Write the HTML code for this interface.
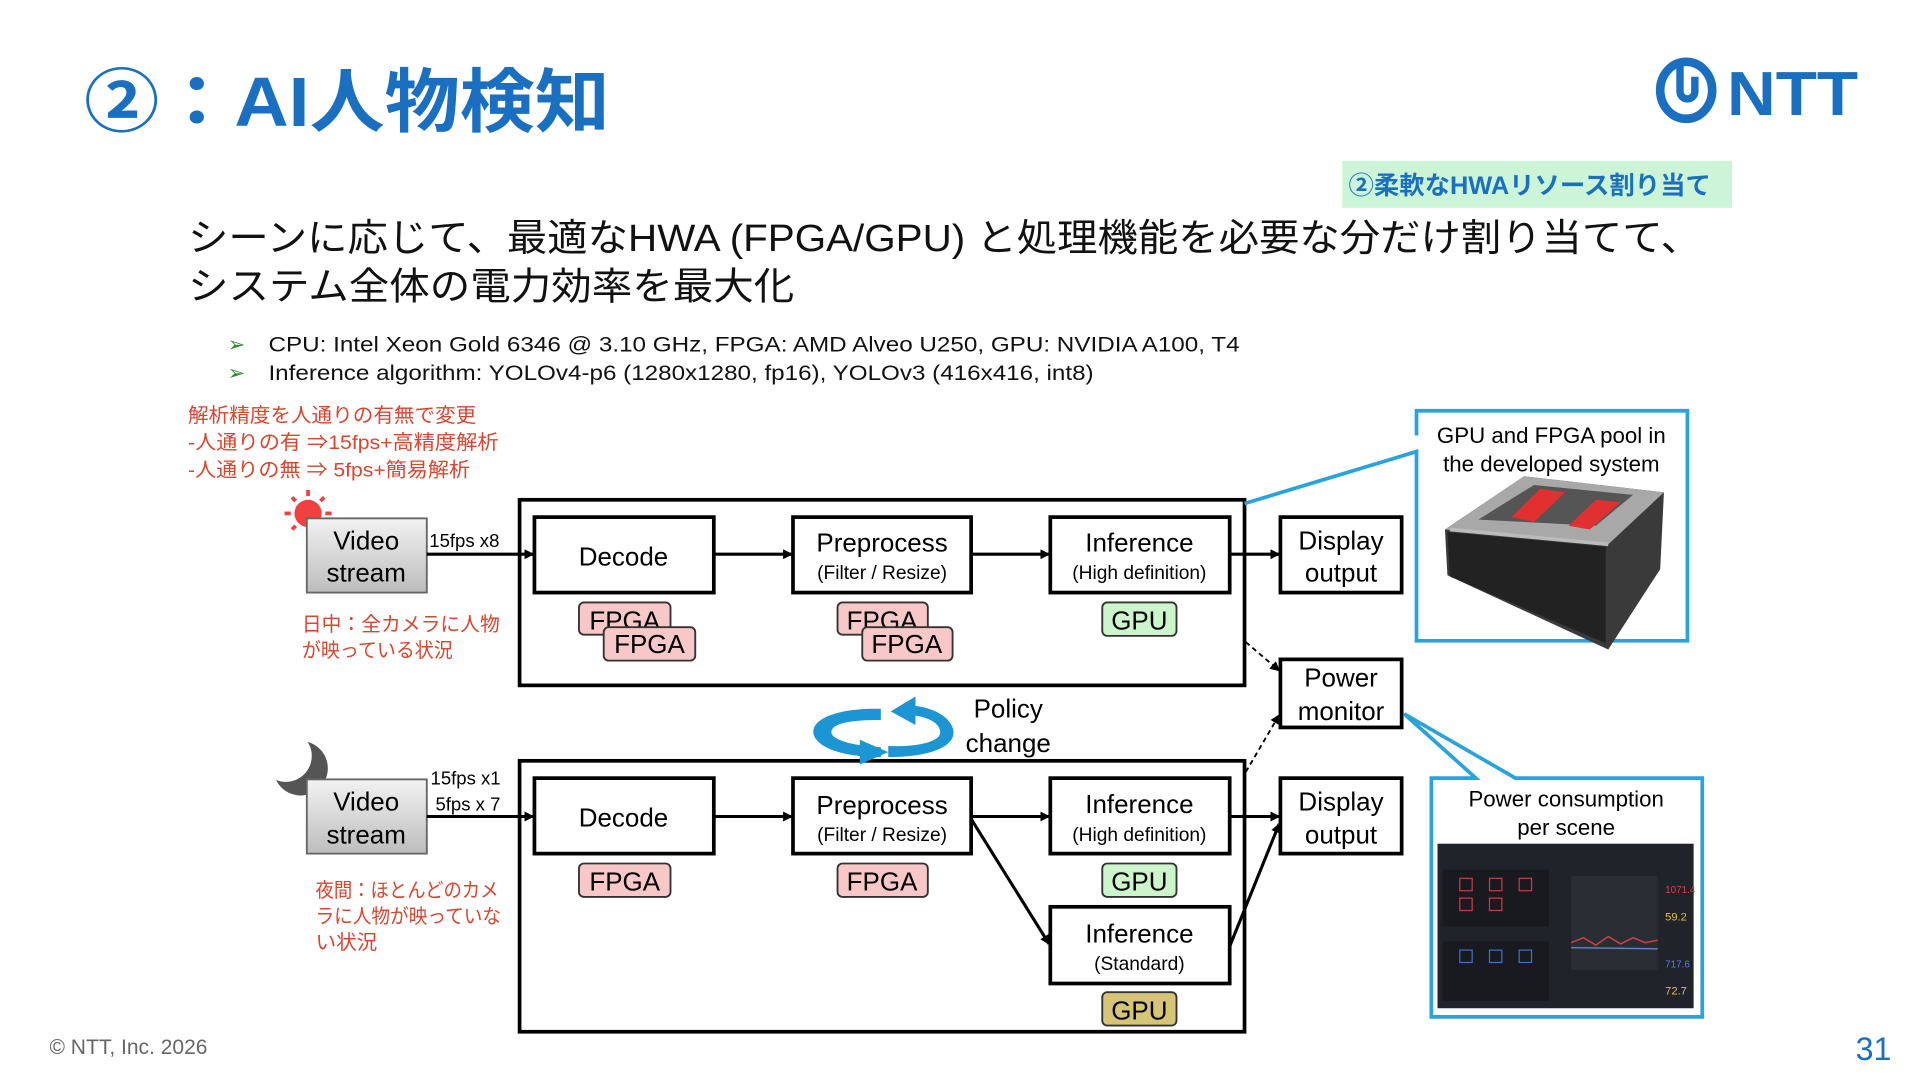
<!DOCTYPE html>
<html><head><meta charset="utf-8"><style>
html,body{margin:0;padding:0;background:#fff;width:1920px;height:1080px;overflow:hidden}
svg{display:block}
text{font-family:"Liberation Sans","Noto Sans CJK JP",sans-serif}
</style></head><body>
<svg width="1920" height="1080" viewBox="0 0 1552 873" xmlns="http://www.w3.org/2000/svg">
<defs>
<marker id="ah" markerWidth="8" markerHeight="8" refX="7" refY="4" orient="auto" markerUnits="userSpaceOnUse"><path d="M0,0 L8,4 L0,8 z" fill="#000"/></marker>
<linearGradient id="gv" x1="0" y1="0" x2="0" y2="1"><stop offset="0" stop-color="#f2f2f2"/><stop offset="1" stop-color="#bdbdbd"/></linearGradient>
<mask id="mm"><rect x="200" y="580" width="100" height="100" fill="#fff"/><circle cx="231" cy="611" r="21" fill="#000"/></mask>
</defs>
<!-- title -->
<text x="68" y="102" font-size="56" font-weight="bold" fill="#1a6fc0" textLength="425" lengthAdjust="spacingAndGlyphs">②：AI人物検知</text>
<!-- NTT logo -->
<ellipse cx="1363" cy="73" rx="21" ry="23" fill="none" stroke="#1a6fc0" stroke-width="7"/>
<path d="M1358,52 v22 a6,6 0 0 0 12,0 v-12" fill="none" stroke="#1a6fc0" stroke-width="6"/>
<text x="1396" y="93" font-size="50" font-weight="bold" fill="#1a6fc0" textLength="106" lengthAdjust="spacingAndGlyphs">NTT</text>
<!-- green label -->
<rect x="1085" y="130" width="315" height="38" fill="#ccf5d8"/>
<text x="1090" y="157" font-size="20" font-weight="bold" fill="#1a6fc0" textLength="293" lengthAdjust="spacingAndGlyphs">②柔軟なHWAリソース割り当て</text>
<!-- heading -->
<text x="152" y="203" font-size="31" fill="#111" textLength="1223" lengthAdjust="spacingAndGlyphs">シーンに応じて、最適なHWA (FPGA/GPU) と処理機能を必要な分だけ割り当てて、</text>
<text x="152" y="242" font-size="31" fill="#111" textLength="490" lengthAdjust="spacingAndGlyphs">システム全体の電力効率を最大化</text>
<text x="184" y="284" font-size="17" fill="#2e8b2e">➢</text>
<text x="217" y="284" font-size="17.5" fill="#111" textLength="785" lengthAdjust="spacingAndGlyphs">CPU: Intel Xeon Gold 6346 @ 3.10 GHz, FPGA: AMD Alveo U250, GPU: NVIDIA A100, T4</text>
<text x="184" y="307" font-size="17" fill="#2e8b2e">➢</text>
<text x="217" y="307" font-size="17.5" fill="#111" textLength="667" lengthAdjust="spacingAndGlyphs">Inference algorithm: YOLOv4-p6 (1280x1280, fp16), YOLOv3 (416x416, int8)</text>
<!-- red notes -->
<g font-size="16" fill="#d9452f" lengthAdjust="spacingAndGlyphs">
<text x="152" y="341" textLength="233" lengthAdjust="spacingAndGlyphs">解析精度を人通りの有無で変更</text>
<text x="152" y="363" textLength="251" lengthAdjust="spacingAndGlyphs">-人通りの有 ⇒15fps+高精度解析</text>
<text x="152" y="385" textLength="228" lengthAdjust="spacingAndGlyphs">-人通りの無 ⇒ 5fps+簡易解析</text>
<text x="244" y="510" textLength="160" lengthAdjust="spacingAndGlyphs">日中：全カメラに人物</text>
<text x="244" y="531" textLength="122" lengthAdjust="spacingAndGlyphs">が映っている状況</text>
<text x="255" y="725" textLength="148" lengthAdjust="spacingAndGlyphs">夜間：ほとんどのカメ</text>
<text x="255" y="746" textLength="150" lengthAdjust="spacingAndGlyphs">ラに人物が映っていな</text>
<text x="255" y="767" textLength="50" lengthAdjust="spacingAndGlyphs">い状況</text>
</g>
<!-- sun -->
<g fill="#f04040" stroke="#f04040">
<circle cx="249" cy="415" r="11" stroke="none"/>
<g stroke-width="3">
<line x1="249" y1="396" x2="249" y2="401"/><line x1="249" y1="429" x2="249" y2="434"/>
<line x1="230" y1="415" x2="235" y2="415"/><line x1="263" y1="415" x2="268" y2="415"/>
<line x1="236" y1="402" x2="239" y2="405"/><line x1="262" y1="402" x2="259" y2="405"/>
<line x1="236" y1="428" x2="239" y2="425"/><line x1="262" y1="428" x2="259" y2="425"/>
</g>
</g>
<!-- moon -->
<circle cx="243" cy="621" r="22" fill="#555" mask="url(#mm)"/>
<!-- video streams -->
<rect x="248" y="419" width="97" height="60" fill="url(#gv)" stroke="#666" stroke-width="1.5"/>
<text x="296" y="444" font-size="21" text-anchor="middle">Video</text>
<text x="296" y="470" font-size="21" text-anchor="middle">stream</text>
<rect x="248" y="630" width="97" height="60" fill="url(#gv)" stroke="#666" stroke-width="1.5"/>
<text x="296" y="655" font-size="21" text-anchor="middle">Video</text>
<text x="296" y="682" font-size="21" text-anchor="middle">stream</text>
<text x="347" y="442" font-size="15">15fps x8</text>
<text x="348" y="634" font-size="15">15fps x1</text>
<text x="352" y="655" font-size="15">5fps x 7</text>
<!-- big boxes -->
<rect x="420" y="404" width="586" height="150" fill="none" stroke="#000" stroke-width="3"/>
<rect x="420" y="615" width="586" height="219" fill="none" stroke="#000" stroke-width="3"/>
<g fill="#fff" stroke="#000" stroke-width="3">
<rect x="432" y="418" width="145" height="61"/>
<rect x="641" y="418" width="144" height="61"/>
<rect x="849" y="418" width="145" height="61"/>
<rect x="1035" y="418" width="98" height="61"/>
<rect x="1035" y="533" width="98" height="55"/>
<rect x="432" y="629" width="145" height="61"/>
<rect x="641" y="629" width="144" height="61"/>
<rect x="849" y="629" width="145" height="61"/>
<rect x="849" y="733" width="145" height="62"/>
<rect x="1035" y="629" width="98" height="61"/>
</g>
<g font-size="21" text-anchor="middle">
<text x="504" y="457">Decode</text>
<text x="713" y="446">Preprocess</text>
<text x="921" y="446">Inference</text>
<text x="1084" y="444">Display</text>
<text x="1084" y="470">output</text>
<text x="1084" y="555">Power</text>
<text x="1084" y="582">monitor</text>
<text x="504" y="668">Decode</text>
<text x="713" y="658">Preprocess</text>
<text x="921" y="657">Inference</text>
<text x="921" y="762">Inference</text>
<text x="1084" y="655">Display</text>
<text x="1084" y="682">output</text>
<text x="815" y="580">Policy</text>
<text x="815" y="608">change</text>
</g>
<g font-size="15.5" text-anchor="middle">
<text x="713" y="468">(Filter / Resize)</text>
<text x="921" y="468">(High definition)</text>
<text x="713" y="680">(Filter / Resize)</text>
<text x="921" y="680">(High definition)</text>
<text x="921" y="784">(Standard)</text>
</g>
<!-- tags -->
<g stroke="#333" stroke-width="1.5" font-size="21" text-anchor="middle">
<rect x="468" y="487" width="74" height="26" rx="4" fill="#f8c8c8"/><text x="505" y="509" stroke="none">FPGA</text>
<rect x="488" y="507" width="74" height="27" rx="4" fill="#f8c8c8"/><text x="525" y="528" stroke="none">FPGA</text>
<rect x="677" y="487" width="73" height="26" rx="4" fill="#f8c8c8"/><text x="713" y="509" stroke="none">FPGA</text>
<rect x="697" y="507" width="73" height="27" rx="4" fill="#f8c8c8"/><text x="733" y="528" stroke="none">FPGA</text>
<rect x="891" y="487" width="60" height="27" rx="4" fill="#ccf5cc"/><text x="921" y="509" stroke="none">GPU</text>
<rect x="468" y="698" width="74" height="27" rx="4" fill="#f8c8c8"/><text x="505" y="720" stroke="none">FPGA</text>
<rect x="677" y="698" width="73" height="27" rx="4" fill="#f8c8c8"/><text x="713" y="720" stroke="none">FPGA</text>
<rect x="891" y="698" width="60" height="27" rx="4" fill="#ccf5cc"/><text x="921" y="720" stroke="none">GPU</text>
<rect x="891" y="802" width="60" height="27" rx="4" fill="#d6c577"/><text x="921" y="824" stroke="none">GPU</text>
</g>
<!-- arrows -->
<g stroke="#000" stroke-width="2.5" marker-end="url(#ah)" fill="none">
<line x1="345" y1="448" x2="431" y2="448"/>
<line x1="577" y1="448" x2="640" y2="448"/>
<line x1="785" y1="448" x2="848" y2="448"/>
<line x1="994" y1="448" x2="1034" y2="448"/>
<line x1="345" y1="660" x2="431" y2="660"/>
<line x1="577" y1="660" x2="640" y2="660"/>
<line x1="785" y1="660" x2="848" y2="660"/>
<line x1="994" y1="660" x2="1034" y2="660"/>
<line x1="785" y1="662" x2="848" y2="763"/>
<line x1="994" y1="765" x2="1034" y2="666"/>
</g>
<g stroke="#000" stroke-width="1.5" stroke-dasharray="4,3" marker-end="url(#ah)" fill="none">
<line x1="1007" y1="519" x2="1034" y2="542"/>
<line x1="1007" y1="624" x2="1034" y2="578"/>
</g>
<!-- policy icon -->
<g fill="#1c95d4">
<path d="M712,573 C670,572 650,585 660,598 C668,608 690,612 712,612 L712,604 C690,603 672,598 672,592 C672,584 690,582 712,582 z"/>
<path d="M718,612 C755,612 775,602 770,588 C765,575 745,570 732,570 L732,578 C748,578 760,584 760,592 C760,600 740,604 718,603 z"/>
<path d="M695,598 L718,608 695,618 z"/>
<path d="M740,563 L720,575 740,586 z"/>
</g>
<!-- callout 1 -->
<g fill="none" stroke="#29a3dc" stroke-width="3">
<path d="M1006,407 L1145,365 L1145,518 L1364,518 L1364,332 L1145,332 L1145,352"/>
</g>
<text x="1254" y="358" font-size="18" text-anchor="middle">GPU and FPGA pool in</text>
<text x="1254" y="381" font-size="18" text-anchor="middle">the developed system</text>
<!-- server photo -->
<g>
<path d="M1168,428 L1232,385 L1345,398 L1342,460 L1300,525 L1170,465 z" fill="#3a3a3a"/>
<path d="M1168,428 L1232,385 L1345,398 L1300,440 z" fill="#a8a8a8"/>
<path d="M1195,420 L1240,392 L1320,400 L1290,425 z" fill="#555"/>
<path d="M1245,395 L1265,398 L1240,422 L1222,418 z" fill="#e03030"/>
<path d="M1290,404 L1310,406 L1285,428 L1268,425 z" fill="#e03030"/>
<path d="M1170,430 L1298,442 L1298,520 L1172,466 z" fill="#222"/>
<path d="M1172,428 L1300,440" stroke="#bbb" stroke-width="3"/>
</g>
<!-- callout 2 -->
<g fill="none" stroke="#29a3dc" stroke-width="3">
<path d="M1135,577 L1225,629 L1376,629 L1376,822 L1157,822 L1157,629 L1193,629 L1135,577"/>
</g>
<text x="1266" y="652" font-size="18" text-anchor="middle">Power consumption</text>
<text x="1266" y="675" font-size="18" text-anchor="middle">per scene</text>
<rect x="1162" y="682" width="207" height="133" fill="#20232a"/>
<rect x="1166" y="703" width="86" height="46" fill="#181a1f"/>
<rect x="1166" y="761" width="86" height="48" fill="#181a1f"/>
<rect x="1270" y="708" width="70" height="76" fill="#2a2d34"/>
<polyline points="1270,762 1280,758 1290,764 1300,757 1310,763 1320,758 1330,762 1340,760" fill="none" stroke="#d04040" stroke-width="1.2"/>
<polyline points="1270,766 1340,767" stroke="#6080c0" stroke-width="1.2"/>
<g fill="none" stroke="#c04040" stroke-width="1">
<rect x="1180" y="710" width="10" height="10"/><rect x="1204" y="710" width="10" height="10"/><rect x="1228" y="710" width="10" height="10"/>
<rect x="1180" y="726" width="10" height="10"/><rect x="1204" y="726" width="10" height="10"/>
</g>
<g fill="none" stroke="#4070c0" stroke-width="1">
<rect x="1180" y="768" width="10" height="10"/><rect x="1204" y="768" width="10" height="10"/><rect x="1228" y="768" width="10" height="10"/>
</g>
<text x="1346" y="722" font-size="8" fill="#e04040">1071.4</text>
<text x="1346" y="744" font-size="9" fill="#e0c040">59.2</text>
<text x="1346" y="782" font-size="8" fill="#5080e0">717.6</text>
<text x="1346" y="804" font-size="9" fill="#e0c040">72.7</text>
<!-- footer -->
<text x="40" y="852" font-size="17" fill="#666">© NTT, Inc.  2026</text>
<text x="1500" y="857" font-size="26" fill="#1a6fc0">31</text>
</svg>
</body></html>
